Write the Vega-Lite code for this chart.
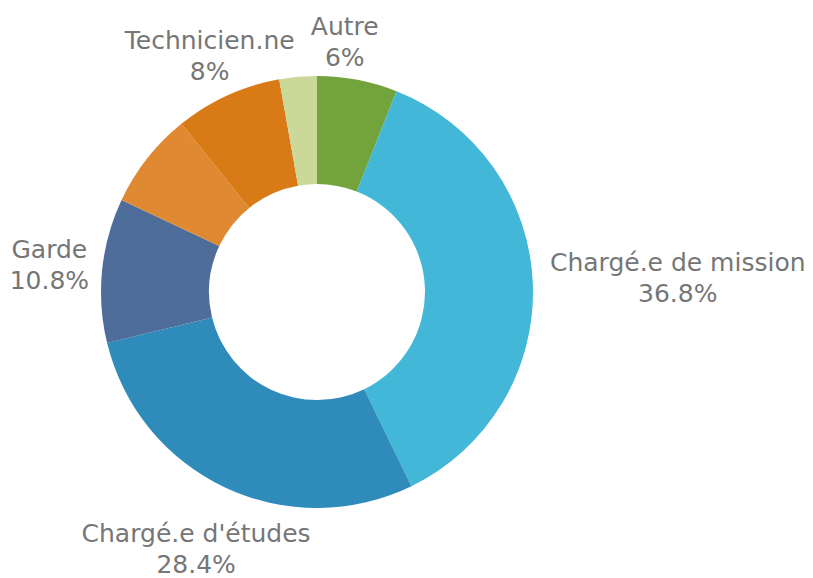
{
  "$schema": "https://vega.github.io/schema/vega-lite/v6.json",
  "width": 634,
  "height": 572,
  "autosize": "none",
  "padding": {"left": 0, "top": 6, "right": 179, "bottom": 0},
  "background": "white",
  "config": {"view": {"stroke": null}, "text": {"font": "DejaVu Sans", "fontSize": 25, "lineHeight": 31, "lineBreak": "\n", "color": "#767676", "align": "center", "baseline": "middle", "dy": -15}},
  "data": {
    "values": [
      {"cat": "Autre", "value": 6.0, "ord": 1, "lbl": "Autre\n6%"},
      {"cat": "Chargé.e de mission", "value": 36.8, "ord": 2, "lbl": "Chargé.e de mission\n36.8%"},
      {"cat": "Chargé.e d'études", "value": 28.4, "ord": 3, "lbl": "Chargé.e d'études\n28.4%"},
      {"cat": "Garde", "value": 10.8, "ord": 4, "lbl": "Garde\n10.8%"},
      {"cat": "Catégorie A", "value": 7.2, "ord": 5, "lbl": ""},
      {"cat": "Technicien.ne", "value": 8.0, "ord": 6, "lbl": "Technicien.ne\n8%"},
      {"cat": "Catégorie B", "value": 2.8, "ord": 7, "lbl": ""}
    ]
  },
  "encoding": {
    "theta": {"field": "value", "type": "quantitative", "stack": true},
    "order": {"field": "ord", "type": "ordinal"}
  },
  "layer": [
    {
      "mark": {"type": "arc", "outerRadius": 216, "innerRadius": 108},
      "encoding": {
        "color": {
          "field": "cat",
          "type": "nominal",
          "legend": null,
          "scale": {
            "domain": ["Autre", "Chargé.e de mission", "Chargé.e d'études", "Garde", "Catégorie A", "Technicien.ne", "Catégorie B"],
            "range": ["#72a43b", "#42b7d7", "#2e8bba", "#4f6d9a", "#df8a32", "#d87b16", "#cbd89a"]
          }
        }
      }
    },
    {
      "mark": {"type": "text", "radius": 361},
      "encoding": {
        "text": {"condition": {"test": "datum.cat === 'Chargé.e de mission'", "field": "lbl"}, "value": ""}
      }
    },
    {
      "mark": {"type": "text", "radius": 269},
      "encoding": {
        "text": {"condition": {"test": "datum.cat === 'Garde'", "field": "lbl"}, "value": ""}
      }
    },
    {
      "mark": {"type": "text", "radius": 259},
      "encoding": {
        "text": {"condition": {"test": "datum.cat === 'Technicien.ne'", "field": "lbl"}, "value": ""}
      }
    },
    {
      "mark": {"type": "text", "radius": 255, "dx": -20},
      "encoding": {
        "text": {"condition": {"test": "datum.cat === 'Autre'", "field": "lbl"}, "value": ""}
      }
    },
    {
      "mark": {"type": "text", "radius": 284},
      "encoding": {
        "text": {"condition": {"test": "datum.cat === \"Chargé.e d'études\"", "field": "lbl"}, "value": ""}
      }
    }
  ]
}
